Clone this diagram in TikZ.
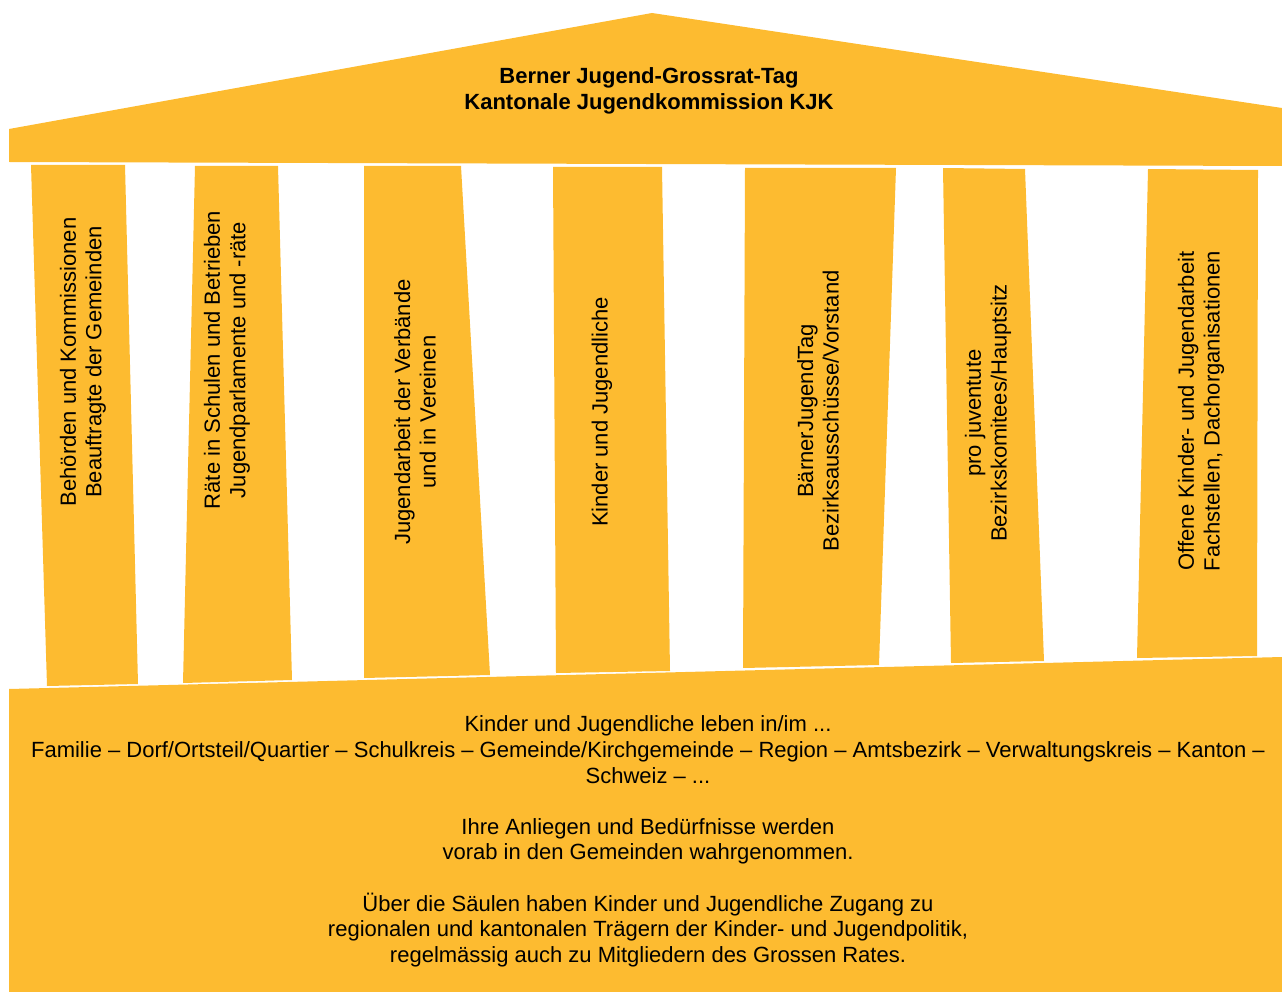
\documentclass[tikz,border=0pt]{standalone}
\usepackage{fontspec}
\setmainfont{Liberation Sans}
\definecolor{kjkgelb}{HTML}{FDBB30}

\begin{document}
\begin{tikzpicture}[x=1pt,y=-1pt,
  bau/.style={fill=kjkgelb},
  bau text/.style={font=\fontsize{22}{25.6}\selectfont,
  align=center,inner sep=0pt},
  saeule text/.style={bau text,rotate=90}]

  \useasboundingbox (0,0) rectangle (1282,992);

  % Dach
  \fill[bau] (9,162) -- (9,129) -- (652,13) -- (1282,108) -- (1282,166) -- cycle;

  % Saeulen
  \fill[bau] (31,165) -- (125,165) -- (138,684) -- (47,686) -- cycle;
  \fill[bau] (195,166) -- (278,166) -- (292,680) -- (183,683) -- cycle;
  \fill[bau] (364,166) -- (461,166) -- (490,675) -- (364,678) -- cycle;
  \fill[bau] (553,167) -- (662,167) -- (670,671) -- (556,673) -- cycle;
  \fill[bau] (745,168) -- (896,168) -- (879,665) -- (743,668) -- cycle;
  \fill[bau] (943,168) -- (1025,169) -- (1044,661) -- (951,663) -- cycle;
  \fill[bau] (1148,169) -- (1258,170) -- (1257,656) -- (1137,658) -- cycle;

  % Sockel
  \fill[bau] (9,689) -- (1282,657) -- (1282,992) -- (9,992) -- cycle;

  \node[bau text,font=\fontsize{22}{25.6}\selectfont\bfseries] (dach) at (649,91)
    {Berner Jugend-Grossrat-Tag\\Kantonale Jugendkommission KJK};

  \node[saeule text] (behoerden) at (83,362)
    {Behörden und Kommissionen\\Beauftragte der Gemeinden};
  \node[saeule text] (raete) at (227,360)
    {Räte in Schulen und Betrieben\\Jugendparlamente und -räte};
  \node[saeule text] (verbaende) at (415,412)
    {Jugendarbeit der Verbände\\und in Vereinen};
  \node[saeule text] (kinder) at (602,412)
    {Kinder und Jugendliche};
  \node[saeule text] (baerner) at (818,411)
    {BärnerJugendTag\\Bezirksausschüsse/Vorstand};
  \node[saeule text] (juventute) at (988,413)
    {pro juventute\\Bezirkskomitees/Hauptsitz};
  \node[saeule text] (offene) at (1201,411)
    {Offene Kinder- und Jugendarbeit\\Fachstellen, Dachorganisationen};

  \node[bau text] (sockel) at (648,841.5)
    {Kinder und Jugendliche leben in/im ...\\
     Familie – Dorf/Ortsteil/Quartier – Schulkreis – Gemeinde/Kirchgemeinde – Region – Amtsbezirk – Verwaltungskreis – Kanton –\\
     Schweiz – ...\\[25.6pt]
     Ihre Anliegen und Bedürfnisse werden\\
     vorab in den Gemeinden wahrgenommen.\\[25.6pt]
     Über die Säulen haben Kinder und Jugendliche Zugang zu\\
     regionalen und kantonalen Trägern der Kinder- und Jugendpolitik,\\
     regelmässig auch zu Mitgliedern des Grossen Rates.};

\end{tikzpicture}
\end{document}
